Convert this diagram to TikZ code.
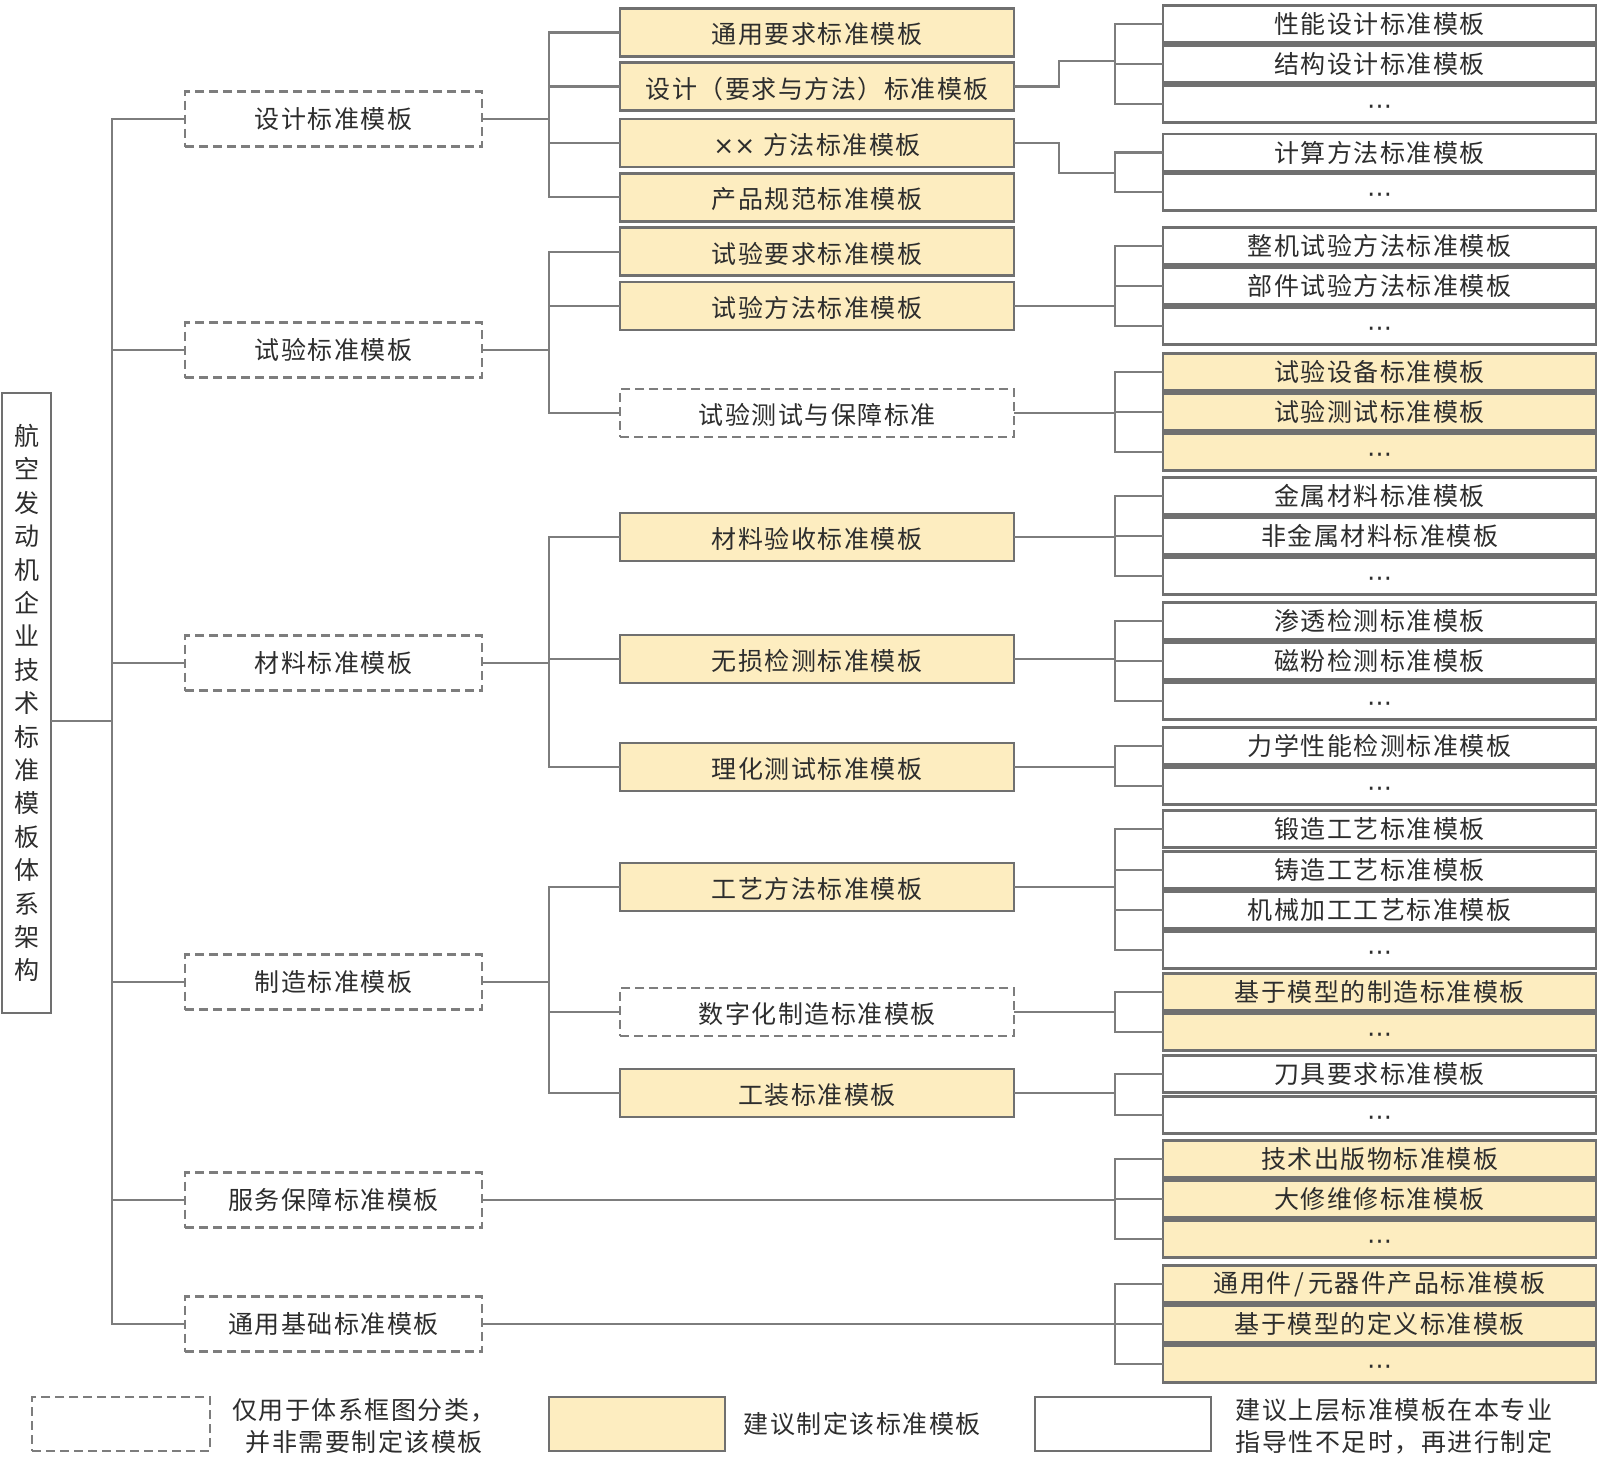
\documentclass[tikz,border=0pt]{standalone}
\usepackage{fontspec}
\setmainfont{Noto Sans CJK SC}[LetterSpace=6]
\newfontfamily\dejavu{DejaVu Sans}
\definecolor{lc}{RGB}{125,125,125}
\definecolor{bc}{RGB}{112,112,112}
\definecolor{yel}{RGB}{253,237,192}
\definecolor{txt}{RGB}{45,45,45}
\newcommand{\dts}{\raisebox{-6pt}[\height][\depth]{\dejavu ⋯}}
\newcommand{\dnshift}[1]{\raisebox{-2pt}[\height][\depth]{#1}}
\begin{document}
\begin{tikzpicture}[x=1pt,y=-1pt,
  every node/.style={inner sep=0pt, outer sep=0pt, text=txt, font=\fontsize{25}{30}\selectfont},
  ln/.style={draw=lc, line width=2.2pt},
  dbox/.style={draw=lc, line width=2.2pt, dash pattern=on 9pt off 5pt, fill=white},
  ybox/.style={draw=bc, fill=yel, line width=2.6pt},
  wbox/.style={draw=bc, fill=white, line width=2.6pt},
  lone/.style={dbox, minimum width=297pt, minimum height=55pt},
  ltwo/.style={minimum width=394pt, minimum height=48pt},
  lthree/.style={minimum width=433pt, minimum height=37pt}]
\useasboundingbox (0,0) rectangle (1600,1459);

% root
\node[draw=bc, line width=2.6pt, minimum width=49pt, minimum height=620pt, align=center,
      font=\fontsize{25}{33.4}\selectfont] (root) at (26.5,703)
  {航\\空\\发\\动\\机\\企\\业\\技\\术\\标\\准\\模\\板\\体\\系\\架\\构};

% level 1
\node[lone] (a1) at (333.5,119) {设计标准模板};
\node[lone] (a2) at (333.5,350) {试验标准模板};
\node[lone] (a3) at (333.5,663) {材料标准模板};
\node[lone] (a4) at (333.5,982) {制造标准模板};
\node[lone] (a5) at (333.5,1200) {服务保障标准模板};
\node[lone] (a6) at (333.5,1324) {通用基础标准模板};

% level 2
\node[ltwo,ybox] (b1) at (817,32.5) {\dnshift{通用要求标准模板}};
\node[ltwo,ybox] (b2) at (817,86.5) {\dnshift{设计（要求与方法）标准模板}};
\node[ltwo,ybox] (b3) at (817,143) {\dnshift{{\dejavu\fontsize{25}{25}\selectfont ××}\hspace{8pt}方法标准模板}};
\node[ltwo,ybox] (b4) at (817,197.3) {\dnshift{产品规范标准模板}};
\node[ltwo,ybox] (b5) at (817,251.7) {\dnshift{试验要求标准模板}};
\node[ltwo,ybox] (b6) at (817,306) {\dnshift{试验方法标准模板}};
\node[ltwo,dbox] (b7) at (817,413) {\dnshift{试验测试与保障标准}};
\node[ltwo,ybox] (b8) at (817,537) {\dnshift{材料验收标准模板}};
\node[ltwo,ybox] (b9) at (817,659) {\dnshift{无损检测标准模板}};
\node[ltwo,ybox] (b10) at (817,767) {\dnshift{理化测试标准模板}};
\node[ltwo,ybox] (b11) at (817,887) {\dnshift{工艺方法标准模板}};
\node[ltwo,dbox] (b12) at (817,1012) {\dnshift{数字化制造标准模板}};
\node[ltwo,ybox] (b13) at (817,1093) {\dnshift{工装标准模板}};

% level 3
\node[lthree,wbox] (c1) at (1379.5,24) {性能设计标准模板};
\node[lthree,wbox] (c2) at (1379.5,64) {结构设计标准模板};
\node[lthree,wbox] (c3) at (1379.5,104) {\dts};
\node[lthree,wbox] (c4) at (1379.5,152.5) {计算方法标准模板};
\node[lthree,wbox] (c5) at (1379.5,192) {\dts};
\node[lthree,wbox] (c6) at (1379.5,246) {整机试验方法标准模板};
\node[lthree,wbox] (c7) at (1379.5,286) {部件试验方法标准模板};
\node[lthree,wbox] (c8) at (1379.5,326) {\dts};
\node[lthree,ybox] (c9) at (1379.5,372) {试验设备标准模板};
\node[lthree,ybox] (c10) at (1379.5,412) {试验测试标准模板};
\node[lthree,ybox] (c11) at (1379.5,452) {\dts};
\node[lthree,wbox] (c12) at (1379.5,496) {金属材料标准模板};
\node[lthree,wbox] (c13) at (1379.5,536) {非金属材料标准模板};
\node[lthree,wbox] (c14) at (1379.5,576) {\dts};
\node[lthree,wbox] (c15) at (1379.5,621) {渗透检测标准模板};
\node[lthree,wbox] (c16) at (1379.5,661) {磁粉检测标准模板};
\node[lthree,wbox] (c17) at (1379.5,701) {\dts};
\node[lthree,wbox] (c18) at (1379.5,746) {力学性能检测标准模板};
\node[lthree,wbox] (c19) at (1379.5,786) {\dts};
\node[lthree,wbox] (c20) at (1379.5,829) {锻造工艺标准模板};
\node[lthree,wbox] (c21) at (1379.5,870) {铸造工艺标准模板};
\node[lthree,wbox] (c22) at (1379.5,910) {机械加工工艺标准模板};
\node[lthree,wbox] (c23) at (1379.5,950) {\dts};
\node[lthree,ybox] (c24) at (1379.5,992) {基于模型的制造标准模板};
\node[lthree,ybox] (c25) at (1379.5,1032) {\dts};
\node[lthree,wbox] (c26) at (1379.5,1074) {刀具要求标准模板};
\node[lthree,wbox] (c27) at (1379.5,1115) {\dts};
\node[lthree,ybox] (c28) at (1379.5,1159) {技术出版物标准模板};
\node[lthree,ybox] (c29) at (1379.5,1199) {大修维修标准模板};
\node[lthree,ybox] (c30) at (1379.5,1239) {\dts};
\node[lthree,ybox] (c31) at (1379.5,1284) {通用件\hspace{3pt}/\hspace{4pt}元器件产品标准模板};
\node[lthree,ybox] (c32) at (1379.5,1324) {基于模型的定义标准模板};
\node[lthree,ybox] (c33) at (1379.5,1364) {\dts};

% trunk
\coordinate (t) at (112,721);
\draw[ln] (root.east |- t) -- (t);
\foreach \n in {a1,a2,a3,a4,a5,a6} \draw[ln] (\n.west) -| (t);

% level 2 brackets
\coordinate (p1) at (549,119);
\coordinate (p2) at (549,350);
\coordinate (p3) at (549,663);
\coordinate (p4) at (549,982);
\draw[ln] (a1.east) -- (p1);
\draw[ln] (a2.east) -- (p2);
\draw[ln] (a3.east) -- (p3);
\draw[ln] (a4.east) -- (p4);
\foreach \n in {b1,b2,b3,b4} \draw[ln] (\n.west) -| (p1);
\foreach \n in {b5,b6,b7} \draw[ln] (\n.west) -| (p2);
\foreach \n in {b8,b9,b10} \draw[ln] (\n.west) -| (p3);
\foreach \n in {b11,b12,b13} \draw[ln] (\n.west) -| (p4);

% level 3 brackets
\coordinate (q1) at (1115,61);
\coordinate (q2) at (1115,173);
\coordinate (q3) at (1115,306);
\coordinate (q4) at (1115,413);
\coordinate (q5) at (1115,537);
\coordinate (q6) at (1115,659);
\coordinate (q7) at (1115,767);
\coordinate (q8) at (1115,887);
\coordinate (q9) at (1115,1012);
\coordinate (q10) at (1115,1093);
\coordinate (q11) at (1115,1200);
\coordinate (q12) at (1115,1324);
\draw[ln] (b2.east) -- ++(45,0) |- (q1);
\draw[ln] (b3.east) -- ++(45,0) |- (q2);
\draw[ln] (b6.east) -- (q3);
\draw[ln] (b7.east) -- (q4);
\draw[ln] (b8.east) -- (q5);
\draw[ln] (b9.east) -- (q6);
\draw[ln] (b10.east) -- (q7);
\draw[ln] (b11.east) -- (q8);
\draw[ln] (b12.east) -- (q9);
\draw[ln] (b13.east) -- (q10);
\draw[ln] (a5.east) -- (q11);
\draw[ln] (a6.east) -- (q12);
\foreach \n in {c1,c2,c3} \draw[ln] (\n.west) -| (q1);
\foreach \n in {c4,c5} \draw[ln] (\n.west) -| (q2);
\foreach \n in {c6,c7,c8} \draw[ln] (\n.west) -| (q3);
\foreach \n in {c9,c10,c11} \draw[ln] (\n.west) -| (q4);
\foreach \n in {c12,c13,c14} \draw[ln] (\n.west) -| (q5);
\foreach \n in {c15,c16,c17} \draw[ln] (\n.west) -| (q6);
\foreach \n in {c18,c19} \draw[ln] (\n.west) -| (q7);
\foreach \n in {c20,c21,c22,c23} \draw[ln] (\n.west) -| (q8);
\foreach \n in {c24,c25} \draw[ln] (\n.west) -| (q9);
\foreach \n in {c26,c27} \draw[ln] (\n.west) -| (q10);
\foreach \n in {c28,c29,c30} \draw[ln] (\n.west) -| (q11);
\foreach \n in {c31,c32,c33} \draw[ln] (\n.west) -| (q12);

% legend
\node[dbox, minimum width=178pt, minimum height=54pt] (k1) at (121,1424) {};
\node[align=center, font=\fontsize{25}{32}\selectfont] (k1t) at (364,1426) {仅用于体系框图分类，\\并非需要制定该模板};
\node[ybox, minimum width=176pt, minimum height=54pt] (k2) at (637,1424) {};
\node (k2t) at (862,1424) {建议制定该标准模板};
\node[wbox, minimum width=176pt, minimum height=54pt] (k3) at (1123,1424) {};
\node[align=center, font=\fontsize{25}{32}\selectfont] (k3t) at (1394,1426) {建议上层标准模板在本专业\\指导性不足时，再进行制定};
\end{tikzpicture}
\end{document}
